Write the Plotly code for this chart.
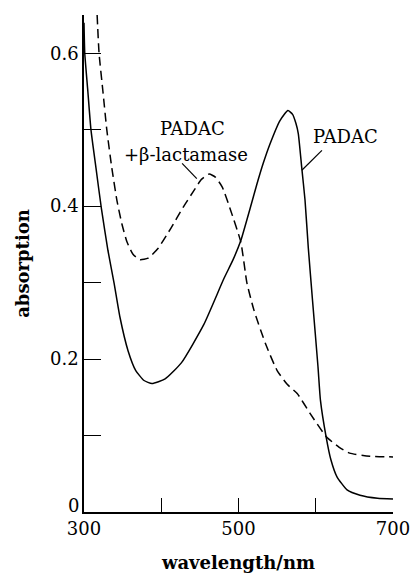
import plotly.graph_objects as go

# PADAC (solid)
padac_x = [300, 301, 305, 309, 315.5, 322.5, 331, 339, 346.5, 357, 367, 377.7, 388, 405, 426,
           455, 481, 493, 503, 515, 523.6, 532, 541, 553.7, 564, 570, 574.4, 577.4, 581.8,
           586.1, 590.4, 595.8, 602.9, 606.1, 613.3, 619.7, 627.5, 640.5, 657.3, 680, 700]
padac_y = [0.64, 0.60, 0.55, 0.50, 0.45, 0.397, 0.342, 0.299, 0.255, 0.211, 0.185, 0.172,
           0.168, 0.174, 0.195, 0.245, 0.305, 0.33, 0.355, 0.397, 0.428, 0.456, 0.482, 0.512,
           0.525, 0.52, 0.508, 0.495, 0.451, 0.408, 0.345, 0.277, 0.19, 0.146, 0.099, 0.068,
           0.046, 0.029, 0.022, 0.018, 0.017]

# PADAC + beta-lactamase (dashed)
lact_x = [317, 319.5, 324.5, 329.5, 336, 342.7, 349, 355.7, 363.4, 372.5, 383, 396, 413, 428,
          442, 452, 462, 470, 479, 490, 503, 511, 520, 535, 550, 563, 576, 592.6, 614, 630,
          644, 670, 700]
lact_y = [0.65, 0.60, 0.55, 0.50, 0.45, 0.407, 0.377, 0.353, 0.337, 0.33, 0.332, 0.345,
          0.372, 0.398, 0.42, 0.435, 0.442, 0.438, 0.425, 0.394, 0.353, 0.299, 0.264, 0.22,
          0.185, 0.167, 0.155, 0.129, 0.098, 0.085, 0.077, 0.073, 0.072]

x_tickvals = [300, 400, 500, 600, 700]
x_ticktext = ["300", "", "500", "", "700"]
y_tickvals = [0, 0.1, 0.2, 0.3, 0.4, 0.5, 0.6]
y_ticktext = ["", "", "0.2", "", "0.4", "", "0.6"]
y_zero_label = "0"

label_text = ["PADAC", "+β-lactamase", "PADAC"]
label_x = [441, 432, 638]
label_y = [0.501, 0.468, 0.491]

leader_x0 = [427, 608]
leader_y0 = [0.456, 0.473]
leader_x1 = [446, 582]
leader_y1 = [0.436, 0.447]

FONT = "DejaVu Serif"

fig = go.Figure()
fig.add_trace(go.Scatter(x=padac_x, y=padac_y, mode="lines",
                         line=dict(color="black", width=1.5, shape="spline", smoothing=0.5),
                         showlegend=False, hoverinfo="skip"))
fig.add_trace(go.Scatter(x=lact_x, y=lact_y, mode="lines",
                         line=dict(color="black", width=1.5, dash="9px,5px",
                                   shape="spline", smoothing=0.5),
                         showlegend=False, hoverinfo="skip"))

for t, x, y in zip(label_text, label_x, label_y):
    fig.add_annotation(x=x, y=y, text=t, showarrow=False, xanchor="center", yanchor="middle",
                       font=dict(family=FONT, size=18, color="black"))

for x0, y0, x1, y1 in zip(leader_x0, leader_y0, leader_x1, leader_y1):
    fig.add_shape(type="line", x0=x0, y0=y0, x1=x1, y1=y1, xref="x", yref="y",
                  line=dict(color="black", width=1.2))

# "0" label of the y axis, sitting just above the x axis line
fig.add_annotation(x=0, xref="paper", y=0, yref="y", text=y_zero_label, showarrow=False,
                   xanchor="right", yanchor="middle", xshift=-3, yshift=7,
                   font=dict(family=FONT, size=18, color="black"))

fig.update_layout(
    width=412, height=574,
    margin=dict(l=84, r=19, t=15, b=62),
    paper_bgcolor="white", plot_bgcolor="white",
    font=dict(family=FONT, size=18, color="black"),
    xaxis=dict(range=[300, 700], showline=True, linecolor="black", linewidth=1.5,
               ticks="inside", ticklen=14, tickwidth=1.3, tickcolor="black",
               tickvals=x_tickvals, ticktext=x_ticktext, showgrid=False, zeroline=False,
               automargin=False,
               tickfont=dict(family=FONT, size=18),
               title=dict(text="<b>wavelength/nm</b>", font=dict(family=FONT, size=18),
                          standoff=18)),
    yaxis=dict(range=[0, 0.65], showline=True, linecolor="black", linewidth=1.5,
               ticks="inside", ticklen=17, tickwidth=1.3, tickcolor="black",
               tickvals=y_tickvals, ticktext=y_ticktext, showgrid=False, zeroline=False,
               automargin=False,
               tickfont=dict(family=FONT, size=18),
               title=dict(text="<b>absorption</b>", font=dict(family=FONT, size=18),
                          standoff=16)),
)

fig.write_html("out.html")
